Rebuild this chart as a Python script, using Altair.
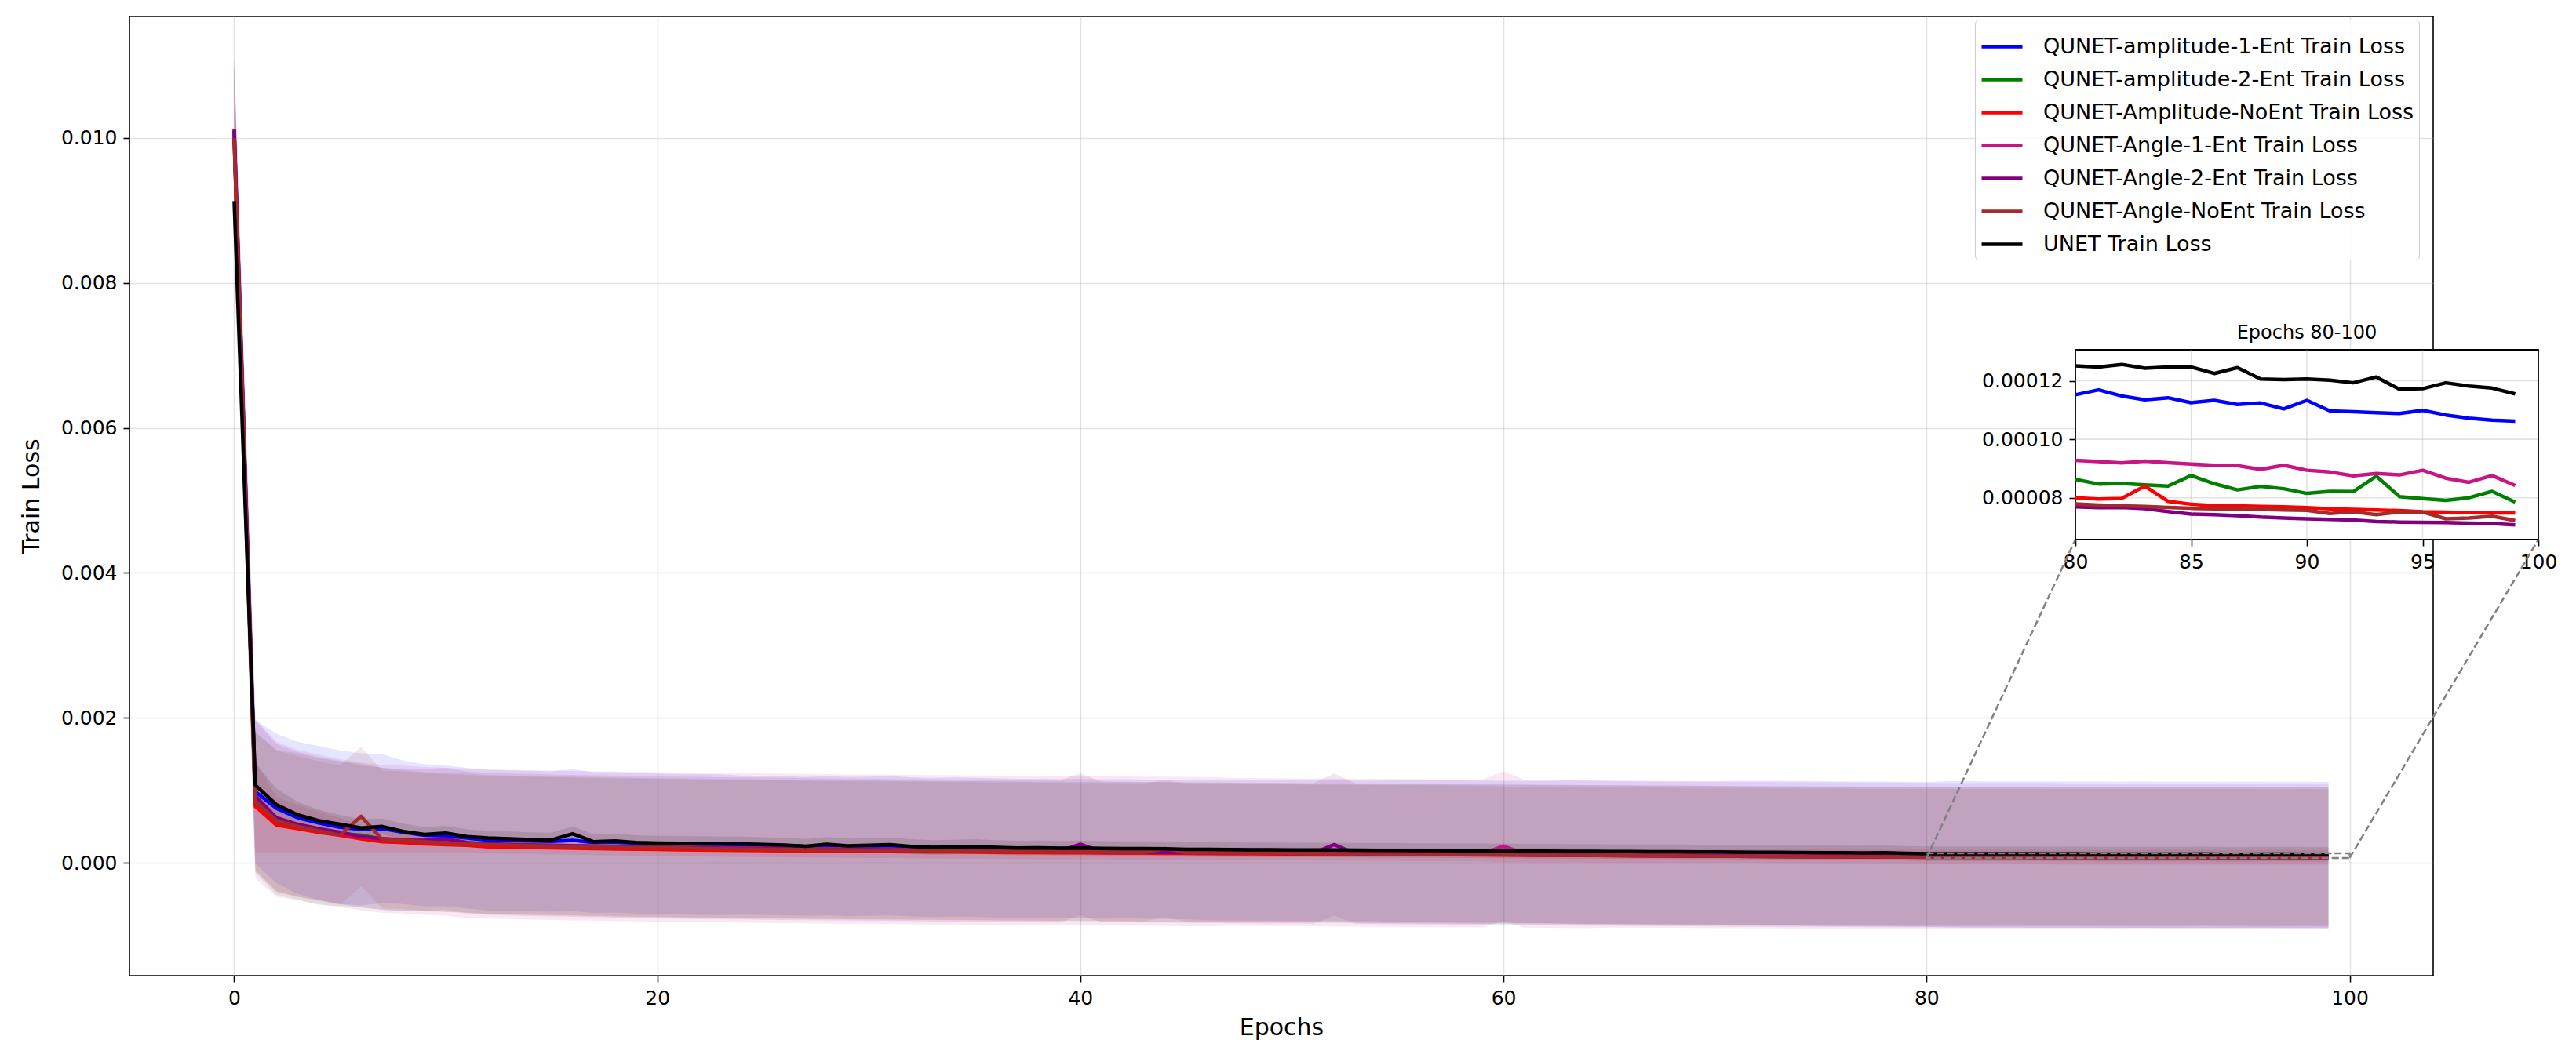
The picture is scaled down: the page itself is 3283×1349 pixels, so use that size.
import altair as alt
import pandas as pd

# ---------------- data (loss values in units of 1e-5) ----------------
U = 1e-5
EPOCHS = list(range(100))
SERIES = [
    "QUNET-amplitude-1-Ent Train Loss",
    "QUNET-amplitude-2-Ent Train Loss",
    "QUNET-Amplitude-NoEnt Train Loss",
    "QUNET-Angle-1-Ent Train Loss",
    "QUNET-Angle-2-Ent Train Loss",
    "QUNET-Angle-NoEnt Train Loss",
    "UNET Train Loss",
]
COLORS = ["#0000ff", "#008000", "#ff0000", "#c71585", "#800080", "#a52a2a", "#000000"]

amp1_mean = [
    1010, 98, 75, 62, 55, 49, 46, 47, 42, 38,
    37, 34, 31, 30.5, 30, 29.5, 31, 28, 28.3, 27,
    26, 25.6, 25.2, 24.8, 24.5, 24, 23.4, 22.6, 23.5, 22.4,
    22.8, 23.5, 22, 21, 21.8, 21.2, 20.6, 19.8, 19.9, 19.4,
    19.5, 19.0, 19.2, 18.8, 18.5, 18.0, 17.8, 17.6, 17.4, 17.2,
    17.0, 16.8, 16.7, 16.5, 16.3, 16.1, 15.9, 15.8, 15.6, 15.4,
    15.2, 15.0, 14.8, 14.6, 14.4, 14.3, 14.1, 13.9, 13.8, 13.6,
    13.5, 13.3, 13.2, 13.0, 12.8, 12.6, 12.4, 12.1, 12.0, 11.7,
    11.52, 11.69, 11.48, 11.35, 11.42, 11.25, 11.33, 11.19, 11.24, 11.04,
    11.33, 10.97, 10.94, 10.91, 10.88, 10.99, 10.83, 10.72, 10.65, 10.62]
amp2_mean = [
    1000, 83, 56, 50, 43, 40, 38, 33, 31, 29,
    28, 27, 25, 24.4, 23.8, 23.2, 22.9, 22.2, 21.7, 21.2,
    20.7, 20.3, 19.9, 19.6, 19.3, 19.0, 18.7, 18.4, 18.2, 17.9,
    17.7, 17.4, 17.2, 16.9, 16.7, 16.5, 16.3, 16.1, 15.9, 15.7,
    15.5, 15.3, 15.1, 14.9, 14.7, 14.5, 14.3, 14.4, 13.9, 13.7,
    13.5, 13.3, 13.1, 12.9, 12.7, 12.5, 12.3, 12.1, 11.9, 11.7,
    11.6, 11.4, 11.2, 11.3, 10.9, 10.7, 10.6, 10.4, 10.2, 10.1,
    9.9, 9.8, 9.6, 9.5, 9.3, 9.2, 9.0, 8.9, 8.8, 8.7,
    8.63, 8.47, 8.49, 8.44, 8.40, 8.76, 8.48, 8.27, 8.39, 8.31,
    8.15, 8.22, 8.21, 8.74, 8.04, 7.97, 7.91, 8.00, 8.22, 7.85]
ampnoent_mean = [
    1000, 78, 52, 47, 42, 38, 33, 29, 28, 26,
    25, 24, 22, 21.5, 21, 20.5, 20, 19.5, 19.1, 18.7,
    18.3, 18.0, 17.7, 17.4, 17.1, 16.8, 16.5, 16.3, 16.0, 15.8,
    15.6, 15.4, 15.2, 15.0, 14.8, 14.6, 14.4, 14.2, 14.0, 13.9,
    13.7, 13.5, 13.4, 13.2, 13.1, 12.9, 12.8, 12.6, 12.5, 12.3,
    12.2, 12.0, 11.9, 11.7, 11.6, 11.4, 11.3, 11.1, 11.0, 10.8,
    10.7, 10.5, 10.4, 10.2, 10.1, 9.9, 9.8, 9.6, 9.5, 9.3,
    9.2, 9.0, 8.9, 8.8, 8.7, 8.5, 8.4, 8.3, 8.2, 8.1,
    8.00, 7.96, 7.98, 8.40, 7.88, 7.78, 7.73, 7.72, 7.70, 7.69,
    7.66, 7.62, 7.60, 7.58, 7.56, 7.52, 7.51, 7.49, 7.48, 7.48]
ang1_mean = [
    1010, 88, 60, 52, 46, 41, 36, 33, 32, 30,
    29, 27, 26, 25.3, 24.7, 24.1, 23.6, 23.1, 22.6, 22.2,
    21.8, 21.4, 21.0, 20.7, 20.4, 20.1, 19.8, 19.5, 19.2, 18.9,
    18.7, 18.4, 18.2, 17.9, 17.7, 17.5, 17.3, 17.1, 16.9, 16.7,
    16.5, 16.3, 16.1, 15.9, 15.7, 15.5, 15.3, 15.1, 14.9, 14.7,
    14.5, 14.3, 14.1, 13.9, 13.7, 13.5, 13.3, 13.1, 12.9, 12.7,
    23.0, 12.4, 12.2, 12.0, 11.8, 11.6, 11.4, 11.2, 11.1, 10.9,
    10.8, 10.6, 10.5, 10.3, 10.2, 10.0, 9.9, 9.7, 9.6, 9.4,
    9.28, 9.24, 9.19, 9.25, 9.20, 9.15, 9.11, 9.10, 8.97, 9.11,
    8.94, 8.88, 8.75, 8.83, 8.78, 8.94, 8.67, 8.53, 8.76, 8.42]
ang2_mean = [
    1013, 92, 62, 53, 47, 42, 36, 33, 31, 31,
    33, 28, 26, 25.2, 24.5, 23.9, 23.3, 22.8, 22.3, 21.8,
    21.3, 20.9, 20.5, 20.1, 19.8, 19.4, 19.1, 18.8, 18.5, 18.2,
    17.9, 17.6, 17.3, 17.0, 16.8, 16.5, 16.3, 16.0, 15.8, 15.6,
    25.5, 15.0, 14.8, 14.6, 14.4, 14.2, 13.9, 13.7, 13.5, 13.3,
    13.1, 12.9, 25.0, 12.5, 12.3, 12.1, 11.9, 11.7, 11.5, 11.3,
    11.1, 10.9, 10.7, 10.5, 10.3, 10.1, 9.9, 9.7, 9.5, 9.3,
    9.1, 8.95, 8.8, 8.65, 8.5, 8.35, 8.2, 8.05, 7.9, 7.8,
    7.69, 7.66, 7.67, 7.63, 7.53, 7.44, 7.42, 7.39, 7.34, 7.31,
    7.28, 7.26, 7.24, 7.19, 7.17, 7.16, 7.15, 7.13, 7.12, 7.07]
angnoent_mean = [
    1000, 85, 58, 50, 44, 38, 64, 32, 31, 29,
    27, 26, 25, 24.3, 23.6, 23.0, 22.5, 22.0, 21.5, 21.0,
    20.6, 20.2, 19.8, 19.4, 19.1, 18.8, 18.4, 18.1, 17.8, 17.5,
    17.2, 17.0, 16.7, 16.5, 16.2, 16.0, 15.8, 15.6, 15.4, 15.2,
    15.0, 14.8, 14.6, 14.4, 19.5, 14.0, 13.8, 13.6, 13.4, 13.2,
    13.0, 12.8, 12.6, 12.4, 12.2, 12.0, 11.8, 11.6, 11.4, 11.2,
    11.0, 10.8, 10.6, 10.4, 10.2, 10.0, 9.8, 9.6, 9.4, 9.2,
    9.0, 8.85, 8.7, 8.55, 8.4, 8.3, 8.2, 8.1, 8.0, 7.9,
    7.79, 7.75, 7.72, 7.70, 7.67, 7.64, 7.62, 7.61, 7.60, 7.58,
    7.57, 7.46, 7.52, 7.42, 7.51, 7.51, 7.28, 7.31, 7.37, 7.22]
unet_mean = [
    913, 107, 80, 66, 58, 53, 48, 50, 43, 39,
    41, 36, 34, 33, 32, 31.5, 40, 29, 30, 28,
    27.2, 26.8, 26.5, 26.2, 26.0, 25.3, 24.5, 22.8, 25.5, 23.2,
    24.0, 25.0, 22.5, 21.2, 21.6, 22.4, 21.2, 20.3, 20.6, 20.1,
    20.4, 19.8, 19.6, 19.5, 19.3, 18.4, 18.3, 18.1, 18.0, 17.9,
    17.7, 17.6, 17.5, 17.3, 17.2, 17.0, 16.9, 16.7, 16.6, 16.5,
    16.3, 16.1, 16.0, 15.8, 15.7, 15.5, 15.4, 15.2, 15.1, 15.0,
    14.8, 14.6, 14.5, 14.3, 14.1, 13.9, 13.7, 13.5, 13.9, 12.9,
    12.51, 12.47, 12.56, 12.43, 12.47, 12.47, 12.25, 12.45, 12.06, 12.04,
    12.06, 12.02, 11.93, 12.13, 11.71, 11.73, 11.93, 11.82, 11.75, 11.55]

# standard deviations (same units)
amp1_std = [
    100, 99, 103, 105, 106, 106, 105, 103, 99, 98,
    97, 97, 97, 97, 97, 97, 98, 97, 97, 97,
    97, 97, 97, 97, 96, 96, 96, 96, 96, 96,
    96, 96, 96, 96, 96, 96, 96, 96, 96, 96,
    96, 96, 96, 96, 96, 96, 97, 97, 97, 97,
    97, 97, 97, 97, 97, 98, 98, 98, 98, 98,
    98, 98, 98, 99, 99, 99, 99, 99, 99, 99,
    99, 100, 100, 100, 100, 100, 100, 100, 100, 100,
    100, 101, 101, 101, 101, 101, 101, 101, 101, 101,
    101, 101, 101, 101, 101, 101, 101, 101, 101, 101]
amp2_std = [
    100, 97, 100, 101, 101, 100, 99, 98, 97, 96,
    96, 96, 96, 96, 96, 96, 96, 96, 96, 96,
    96, 96, 96, 96, 96, 96, 96, 96, 96, 96,
    96, 96, 96, 96, 96, 96, 96, 96, 96, 96,
    96, 96, 96, 96, 96, 96, 96, 96, 96, 96,
    96, 96, 96, 96, 96, 96, 96, 96, 96, 96,
    96, 96, 96, 96, 96, 96, 96, 96, 96, 96,
    96, 96, 96, 96, 96, 96, 96, 96, 96, 96,
    96, 96, 96, 96, 96, 96, 96, 96, 96, 96,
    96, 96, 96, 96, 96, 96, 96, 96, 96, 96]
ampnoent_std = [
    100, 64, 38, 33, 28, 24, 19, 15, 14, 12,
    11, 10, 9, 9, 9, 9, 9, 9, 9, 9,
    9, 9, 9, 9, 9, 9, 9, 9, 9, 9,
    9, 9, 9, 9, 9, 9, 9, 9, 9, 9,
    9, 9, 9, 9, 9, 9, 9, 9, 9, 9,
    9, 9, 9, 9, 9, 9, 9, 9, 9, 9,
    10, 10, 10, 10, 10, 10, 10, 10, 10, 10,
    10, 10, 10, 10, 10, 10, 10, 10, 10, 10,
    10, 10, 10, 10, 10, 10, 10, 10, 10, 10,
    10, 10, 10, 10, 10, 10, 10, 10, 10, 10]
ang1_std = [
    100, 110, 107, 104, 103, 102, 102, 102, 102, 102,
    102, 103, 103, 103, 103, 103, 103, 103, 103, 103,
    103, 103, 103, 103, 103, 103, 103, 103, 103, 103,
    103, 103, 103, 103, 103, 103, 103, 103, 103, 103,
    103, 103, 103, 103, 103, 103, 103, 102, 102, 102,
    102, 102, 102, 102, 102, 102, 102, 102, 102, 102,
    103, 102, 102, 102, 102, 101, 101, 101, 101, 101,
    101, 101, 101, 101, 101, 101, 101, 101, 101, 101,
    101, 101, 101, 101, 101, 101, 101, 100, 100, 100,
    100, 100, 100, 100, 100, 100, 100, 100, 100, 100]
ang2_std = [
    100, 104, 102, 100, 99, 99, 98, 98, 98, 98,
    98, 98, 98, 98, 98, 98, 98, 98, 98, 98,
    98, 98, 98, 98, 98, 98, 98, 98, 98, 98,
    98, 98, 98, 98, 98, 98, 98, 98, 98, 98,
    98, 97, 97, 97, 97, 97, 97, 97, 97, 97,
    97, 97, 98, 97, 97, 97, 97, 97, 97, 97,
    97, 97, 97, 97, 97, 97, 97, 97, 97, 97,
    97, 97, 97, 97, 97, 97, 97, 97, 97, 97,
    97, 97, 97, 97, 97, 97, 97, 97, 97, 97,
    97, 97, 97, 97, 97, 97, 97, 97, 97, 97]
angnoent_std = [
    100, 95, 97, 97, 96, 96, 96, 95, 95, 95,
    95, 95, 95, 95, 95, 95, 95, 95, 95, 95,
    95, 95, 95, 95, 95, 95, 95, 95, 95, 95,
    95, 95, 95, 95, 95, 95, 95, 95, 95, 95,
    95, 95, 95, 95, 95, 95, 95, 95, 95, 95,
    95, 95, 95, 95, 95, 95, 95, 95, 95, 95,
    94, 94, 94, 94, 94, 94, 94, 94, 94, 94,
    94, 94, 94, 94, 94, 94, 94, 94, 94, 94,
    94, 94, 94, 94, 94, 94, 94, 94, 94, 94,
    94, 94, 94, 94, 94, 94, 94, 94, 94, 94]
unet_std = [
    95, 30, 22, 18, 15, 13, 12, 11, 11, 10,
    10, 10, 10, 10, 10, 10, 10, 10, 10, 10,
    10, 10, 10, 10, 10, 10, 10, 10, 10, 10,
    10, 10, 10, 10, 10, 10, 10, 10, 10, 10,
    10, 10, 10, 10, 10, 10, 10, 10, 10, 10,
    10, 10, 10, 10, 10, 10, 10, 10, 10, 10,
    10, 10, 10, 10, 10, 10, 10, 10, 10, 10,
    10, 10, 10, 10, 10, 10, 10, 10, 10, 10,
    10, 10, 10, 10, 10, 10, 10, 10, 10, 10,
    10, 10, 10, 10, 10, 10, 10, 10, 10, 10]

MEANS = [amp1_mean, amp2_mean, ampnoent_mean, ang1_mean, ang2_mean, angnoent_mean, unet_mean]
STDS = [amp1_std, amp2_std, ampnoent_std, ang1_std, ang2_std, angnoent_std, unet_std]

X_TICKS = [0, 20, 40, 60, 80, 100]
Y_TICKS = [0.0, 0.002, 0.004, 0.006, 0.008, 0.010]
INSET_X_TICKS = [80, 85, 90, 95, 100]
INSET_Y_TICKS = [0.00008, 0.00010, 0.00012]
INSET_TITLE = "Epochs 80-100"
X_TITLE = "Epochs"
Y_TITLE = "Train Loss"

# ---------------- layout ----------------
FONT = "DejaVu Sans"
PLOT_W, PLOT_H = 2936, 1223
X_DOM = [-4.95, 103.95]
Y_DOM = [-0.001558, 0.011677]
INSET_X_DOM = [80, 100]
INSET_Y_DOM = [0.0000657, 0.0001306]
INSET_L, INSET_R, INSET_T, INSET_B = 2480, 3070, 425, 667
LW = 4.5

rows = []
for name, m, s in zip(SERIES, MEANS, STDS):
    for e in EPOCHS:
        rows.append({"series": name, "epoch": e, "loss": m[e] * U,
                     "lo": (m[e] - s[e]) * U, "hi": (m[e] + s[e]) * U})
df = pd.DataFrame(rows)
inset_df = df[df["epoch"] >= INSET_X_DOM[0]]

xs = alt.Scale(domain=X_DOM, nice=False, zero=False)
ys = alt.Scale(domain=Y_DOM, nice=False, zero=False)
xi = alt.Scale(domain=INSET_X_DOM, range=[INSET_L, INSET_R], nice=False, zero=False)
yi = alt.Scale(domain=INSET_Y_DOM, range=[INSET_B, INSET_T], nice=False, zero=False)

ax_x = alt.Axis(values=X_TICKS, title=X_TITLE, format="d", labelFlush=False, titlePadding=10)
ax_y = alt.Axis(values=Y_TICKS, title=Y_TITLE, format=".3f", titlePadding=22)
ax_xi = alt.Axis(values=INSET_X_TICKS, orient="bottom", offset=-(PLOT_H - INSET_B), grid=False,
                 title=None, format="d", labelFlush=False)
ax_yi = alt.Axis(values=INSET_Y_TICKS, orient="left", offset=-INSET_L, grid=False,
                 title=None, format=".5f")

legend = alt.Legend(title=None, orient="none", legendX=2352, legendY=4,
                    labelFont=FONT, labelFontSize=27, labelColor="black", labelLimit=1000,
                    symbolType="stroke", symbolStrokeWidth=LW, symbolSize=2704,
                    labelOffset=24, rowPadding=-3, padding=6,
                    strokeColor="#cccccc", fillColor="rgba(255,255,255,0.8)", cornerRadius=5)
color = alt.Color("series:N", scale=alt.Scale(domain=SERIES, range=COLORS), legend=legend)

# ---- main axes ----
bands = [
    alt.Chart(df).transform_filter(alt.datum.series == n)
    .mark_area(color=c, opacity=0.1)
    .encode(x=alt.X("epoch:Q", scale=xs, axis=ax_x),
            y=alt.Y("lo:Q", scale=ys, axis=ax_y), y2="hi:Q")
    for n, c in zip(SERIES, COLORS)
]
lines = [
    alt.Chart(df).transform_filter(alt.datum.series == n)
    .mark_line(strokeWidth=LW, strokeJoin="round")
    .encode(x=alt.X("epoch:Q", scale=xs, axis=ax_x),
            y=alt.Y("loss:Q", scale=ys, axis=ax_y), color=color)
    for n in SERIES
]

box_df = pd.DataFrame({"x0": [INSET_X_DOM[0]], "x1": [INSET_X_DOM[1]],
                       "y0": [INSET_Y_DOM[0]], "y1": [INSET_Y_DOM[1]]})
zoom_box = alt.Chart(box_df).mark_rect(fillOpacity=0, stroke="#808080", strokeWidth=2.5,
                                       strokeDash=[9, 4]).encode(
    x=alt.X("x0:Q", scale=xs, axis=ax_x), x2="x1:Q",
    y=alt.Y("y0:Q", scale=ys, axis=ax_y), y2="y1:Q")


def main_x(px):
    return X_DOM[0] + px / PLOT_W * (X_DOM[1] - X_DOM[0])


def main_y(py):
    return Y_DOM[1] - py / PLOT_H * (Y_DOM[1] - Y_DOM[0])


conn_df = pd.DataFrame({"x0": INSET_X_DOM, "y0": [INSET_Y_DOM[0]] * 2,
                        "x1": [main_x(INSET_L), main_x(INSET_R)],
                        "y1": [main_y(INSET_B)] * 2})
connectors = alt.Chart(conn_df).mark_rule(color="#808080", strokeWidth=2.5, strokeDash=[9, 4]).encode(
    x=alt.X("x0:Q", scale=xs, axis=ax_x), x2="x1:Q",
    y=alt.Y("y0:Q", scale=ys, axis=ax_y), y2="y1:Q")

main = alt.layer(*bands, *lines, zoom_box, connectors)

# ---- inset axes ----
inset_bg = alt.Chart(box_df).mark_rect(fill="white", stroke="black", strokeWidth=1.8).encode(
    x=alt.X("x0:Q", scale=xi, axis=ax_xi), x2="x1:Q",
    y=alt.Y("y0:Q", scale=yi, axis=ax_yi), y2="y1:Q")
vgrid_df = pd.DataFrame({"x": INSET_X_TICKS[1:-1], "y0": [INSET_Y_DOM[0]] * 3, "y1": [INSET_Y_DOM[1]] * 3})
hgrid_df = pd.DataFrame({"y": INSET_Y_TICKS, "x0": [INSET_X_DOM[0]] * 3, "x1": [INSET_X_DOM[1]] * 3})
vgrid = alt.Chart(vgrid_df).mark_rule(color="#b0b0b0", opacity=0.35, strokeWidth=1.6).encode(
    x=alt.X("x:Q", scale=xi, axis=ax_xi), y=alt.Y("y0:Q", scale=yi, axis=ax_yi), y2="y1:Q")
hgrid = alt.Chart(hgrid_df).mark_rule(color="#b0b0b0", opacity=0.35, strokeWidth=1.6).encode(
    x=alt.X("x0:Q", scale=xi, axis=ax_xi), x2="x1:Q", y=alt.Y("y:Q", scale=yi, axis=ax_yi))
inset_lines = [
    alt.Chart(inset_df).transform_filter(alt.datum.series == n)
    .mark_line(color=c, strokeWidth=LW, strokeJoin="round")
    .encode(x=alt.X("epoch:Q", scale=xi, axis=ax_xi), y=alt.Y("loss:Q", scale=yi, axis=ax_yi))
    for n, c in zip(SERIES, COLORS)
]
title_df = pd.DataFrame({"x": [sum(INSET_X_DOM) / 2], "y": [INSET_Y_DOM[1]], "t": [INSET_TITLE]})
inset_title = alt.Chart(title_df).mark_text(font=FONT, fontSize=24, baseline="alphabetic",
                                            dy=-14, color="black").encode(
    x=alt.X("x:Q", scale=xi, axis=ax_xi), y=alt.Y("y:Q", scale=yi, axis=ax_yi), text="t:N")

inset = alt.layer(inset_bg, vgrid, hgrid, *inset_lines, inset_title)

chart = (
    alt.layer(main, inset)
    .resolve_scale(x="independent", y="independent")
    .properties(width=PLOT_W, height=PLOT_H,
                padding={"left": 157, "top": 13, "right": 170, "bottom": 95},
                autosize=alt.AutoSizeParams(type="none"))
    .configure_view(stroke="black", strokeWidth=1.6)
    .configure_axis(labelFont=FONT, titleFont=FONT, labelFontSize=25, titleFontSize=30,
                    titleFontWeight="normal", labelColor="black", titleColor="black",
                    tickColor="black", tickSize=8, tickWidth=1.6, labelPadding=8,
                    domain=False, gridColor="#b0b0b0", gridOpacity=0.35, gridWidth=1.6)
)

chart.save("out.html", embed_options={"renderer": "svg", "actions": False})
